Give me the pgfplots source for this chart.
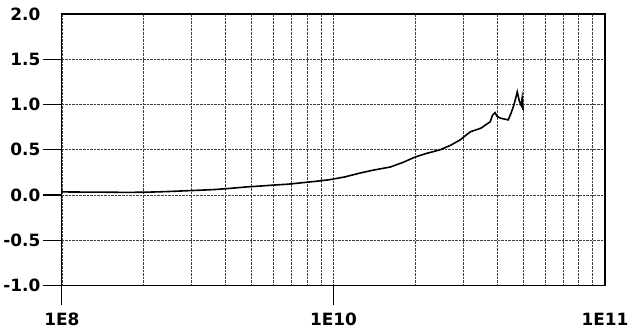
\documentclass[border=0pt]{standalone}
\usepackage{pgfplots}
\pgfplotsset{compat=1.18}
\usepackage{fontspec}
\setmainfont{DejaVu Sans}
\begin{document}
\begin{tikzpicture}
\begin{axis}[
 scale only axis, width=544bp, height=272bp,
 xmode=log, xmin=1e9, xmax=1e11, ymin=-1, ymax=2,
 clip=false,
 xtick={1e9,1e10,1e11}, xticklabels={1E8,1E10,1E11},
 minor xtick={2e9,3e9,4e9,5e9,6e9,7e9,8e9,9e9,2e10,3e10,4e10,5e10,6e10,7e10,8e10,9e10},
 ytick={-1,-0.5,0,0.5,1,1.5,2}, yticklabels={-1.0,-0.5,0.0,0.5,1.0,1.5,2.0},
 major tick length=0pt, minor tick length=0pt,
 xticklabel style={yshift=-24bp},
 yticklabel style={xshift=-18bp},
 xmajorgrids, xminorgrids, ymajorgrids,
 grid style={densely dotted, black!75, line width=0.6bp},
 axis line style={black, line width=1.3bp},
 tick label style={font=\fontsize{17}{17}\selectfont\bfseries},
]
\addplot[black, line width=1.6bp] table {
1e9 0.035
1.2e9 0.033
1.4e9 0.032
1.7e9 0.030
2.0e9 0.031
2.3e9 0.036
2.6e9 0.042
3.0e9 0.050
3.3e9 0.055
3.7e9 0.062
4.2e9 0.075
4.8e9 0.090
5.4e9 0.100
6.0e9 0.110
6.8e9 0.120
7.6e9 0.135
8.5e9 0.150
9.7e9 0.170
1.1e10 0.200
1.26e10 0.245
1.4e10 0.275
1.62e10 0.31
1.8e10 0.36
2.0e10 0.42
2.2e10 0.46
2.47e10 0.50
2.7e10 0.55
2.93e10 0.61
3.1e10 0.67
3.2e10 0.70
3.35e10 0.72
3.5e10 0.74
3.65e10 0.78
3.78e10 0.81
3.85e10 0.88
3.94e10 0.91
4.0e10 0.87
4.11e10 0.85
4.25e10 0.84
4.4e10 0.83
4.5e10 0.90
4.6e10 0.98
4.67e10 1.05
4.75e10 1.14
4.8e10 1.08
4.83e10 1.04
4.91e10 0.99
4.95e10 1.07
4.99e10 0.94
};
\pgfplotsinvokeforeach{-1,-0.5,0,0.5,1,1.5}{
  \draw[black, line width=1.2bp] (axis cs:1e9,#1) -- ++(-19bp,0pt);
}
\draw[black, line width=1.2bp] (axis cs:1e9,-1) -- ++(0pt,-19bp);
\draw[black, line width=1.2bp] (axis cs:1e10,-1) -- ++(0pt,-19bp);
\end{axis}
\path (current axis.south west) ++(-61bp,-48bp) rectangle ++(633bp,334bp);
\end{tikzpicture}
\end{document}
